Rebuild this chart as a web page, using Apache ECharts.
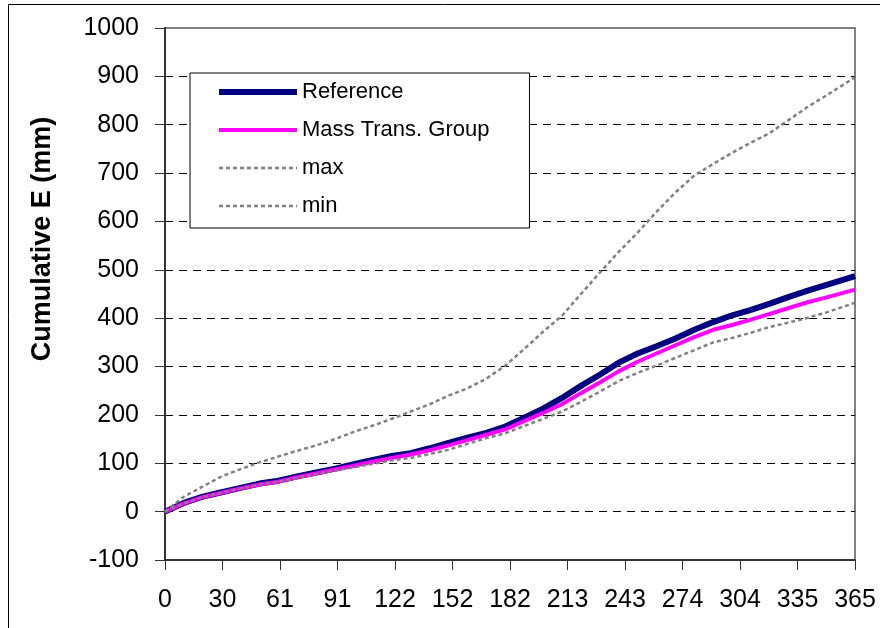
<html>
<head>
    <meta http-equiv="Content-Type" content="text/html; charset=utf-8">
    <script src="https://cdn.jsdelivr.net/npm/echarts@6/dist/echarts.min.js"></script>
    <style>
        * {
            margin: 0;
            padding: 0;
        }

        #main {
            width: 880px;
            height: 628px;
            background: #ffffff;
        }
    </style>
</head>
<body>
<div id="main"></div>
<script type="text/javascript">
    // day of year for every sample
    let days = [0, 10, 20, 30, 40, 50, 60, 70, 80, 90, 100, 110, 120, 130, 140, 150, 160, 170, 180,
        190, 200, 210, 220, 230, 240, 250, 260, 270, 280, 290, 300, 310, 320, 330, 340, 350, 365];
    // cumulative E (mm)
    let refValues = [0, 18, 31, 40, 49, 58, 64, 73, 81, 89, 98, 107, 115, 121, 131, 142, 153, 163, 176,
        194, 213, 235, 260, 283, 308, 327, 342, 358, 376, 392, 406, 417, 430, 444, 457, 469, 487];
    let massValues = [0, 17, 30, 39, 48, 56, 62, 71, 79, 87, 95, 103, 111, 118, 127, 137, 148, 159, 170,
        187, 204, 222, 245, 267, 290, 310, 327, 344, 361, 376, 386, 397, 409, 421, 433, 443, 459];
    let maxValues = [0, 31, 52, 73, 88, 102, 114, 126, 137, 150, 165, 178, 192, 207, 222, 240, 255, 275, 302,
        336, 372, 405, 450, 494, 537, 577, 620, 660, 695, 719, 742, 763, 783, 810, 837, 861, 898];
    let minValues = [0, 17, 30, 39, 48, 56, 62, 70, 78, 85, 92, 99, 106, 111, 119, 128, 140, 152, 162,
        177, 192, 207, 227, 248, 270, 287, 302, 318, 334, 350, 359, 370, 382, 391, 401, 412, 432];
    // x tick labels (one every twelfth of the year)
    let xTickLabels = ['0', '30', '61', '91', '122', '152', '182', '213', '243', '274', '304', '335', '365'];

    function pairs(vals) {
        return days.map(function (d, i) {
            return [d, vals[i]];
        });
    }

    let font = 'Liberation Sans, Arial, sans-serif';
    let xStep = 365 / 12;

    let myChart = echarts.init(document.getElementById('main'), null, {renderer: 'canvas'});

    let option = {
        animation: false,
        backgroundColor: '#ffffff',
        grid: {
            left: 165,
            right: 25,
            top: 28,
            bottom: 68,
            show: true,
            borderColor: '#808080',
            borderWidth: 2,
            containLabel: false
        },
        graphic: [
            {
                type: 'rect',
                shape: {x: 8.5, y: 4.5, width: 900, height: 700},
                style: {fill: 'none', stroke: '#000', lineWidth: 1},
                silent: true,
                z: -1
            },
            {
                type: 'text',
                x: 43,
                y: 239,
                rotation: Math.PI / 2,
                style: {
                    text: 'Cumulative E (mm)',
                    font: 'bold 27px ' + font,
                    fill: '#000',
                    align: 'center',
                    verticalAlign: 'middle'
                }
            }
        ],
        legend: {
            orient: 'vertical',
            left: 190,
            top: 73,
            padding: [8, 40, 11, 26],
            itemWidth: 78,
            itemHeight: 14,
            itemGap: 16,
            borderColor: '#000',
            borderWidth: 1,
            backgroundColor: '#fff',
            itemStyle: {opacity: 0},
            lineStyle: {width: 'inherit'},
            textStyle: {
                fontFamily: font,
                fontSize: 22,
                color: '#000'
            },
            data: ['Reference', 'Mass Trans. Group', 'max', 'min']
        },
        xAxis: {
            type: 'value',
            min: 0,
            max: 365,
            interval: xStep,
            axisLine: {show: true, onZero: false, lineStyle: {color: '#333', width: 2}},
            axisTick: {show: true, inside: false, length: 10, lineStyle: {color: '#333', width: 1}},
            splitLine: {show: false},
            axisLabel: {
                margin: 28,
                fontFamily: 'Liberation Sans Narrow, ' + font,
                fontSize: 25,
                color: '#000',
                formatter: function (v) {
                    return xTickLabels[Math.round(v / xStep)];
                }
            }
        },
        yAxis: {
            type: 'value',
            min: -100,
            max: 1000,
            interval: 100,
            axisLine: {show: true, lineStyle: {color: '#333', width: 2}},
            axisTick: {show: true, inside: false, length: 10, lineStyle: {color: '#333', width: 1}},
            splitLine: {
                show: true,
                showMinLine: false,
                showMaxLine: false,
                lineStyle: {color: '#000', width: 1, type: [8, 6]}
            },
            axisLabel: {
                margin: 26,
                fontFamily: font,
                fontSize: 25,
                color: '#000',
                formatter: function (v) {
                    return String(v);
                }
            }
        },
        series: [
            {
                name: 'Reference',
                type: 'line',
                symbol: 'none',
                data: pairs(refValues),
                lineStyle: {color: '#000080', width: 6},
                itemStyle: {color: '#000080'}
            },
            {
                name: 'Mass Trans. Group',
                type: 'line',
                symbol: 'none',
                data: pairs(massValues),
                lineStyle: {color: '#ff00ff', width: 4},
                itemStyle: {color: '#ff00ff'}
            },
            {
                name: 'max',
                type: 'line',
                symbol: 'none',
                data: pairs(maxValues),
                lineStyle: {color: '#808080', width: 2.5, type: [4, 3]},
                itemStyle: {color: '#808080'}
            },
            {
                name: 'min',
                type: 'line',
                symbol: 'none',
                data: pairs(minValues),
                lineStyle: {color: '#808080', width: 2.5, type: [4, 3]},
                itemStyle: {color: '#808080'}
            }
        ]
    };

    myChart.setOption(option);
</script>
</body>
</html>
